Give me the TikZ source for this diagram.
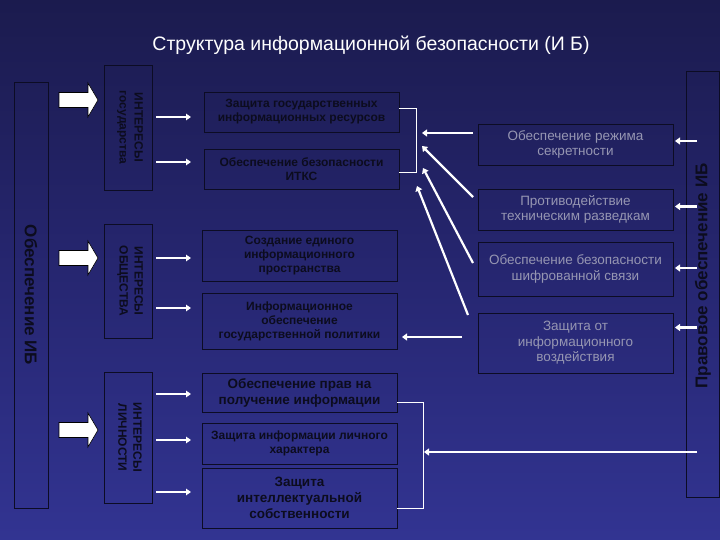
\documentclass[tikz,border=0pt]{standalone}
\usepackage{fontspec}
\setmainfont{Liberation Sans}
\usetikzlibrary{arrows.meta,calc}
\definecolor{bgtop}{RGB}{27,27,78}
\definecolor{bgmid}{RGB}{38,38,112}
\definecolor{bgbot}{RGB}{50,52,146}
\definecolor{edge}{RGB}{12,12,36}
\definecolor{dtext}{RGB}{12,12,30}
\definecolor{rtext}{RGB}{150,150,178}
\newcommand{\mkbigarrow}[1]{\draw[bigarr] (#1) ++(-39,-7.5) -- ++(29,0) -- ++(0,-9.5) -- ++(10,17) -- ++(-10,17) -- ++(0,-9.5) -- ++(-29,0) -- cycle;}
\begin{document}
\begin{tikzpicture}[x=1pt,y=-1pt,
  frame/.style={draw=edge,line width=0.8pt,inner sep=0pt,outer sep=0pt},
  mtext/.style={text=dtext,font=\bfseries\fontsize{12}{14}\selectfont,align=center},
  mbig/.style={text=dtext,font=\bfseries\fontsize{13.5}{16}\selectfont,align=center},
  rtxt/.style={text=rtext,font=\fontsize{13.5}{15.5}\selectfont,align=center},
  itext/.style={text=dtext,font=\bfseries\fontsize{12}{15}\selectfont,align=center,rotate=-90},
  sidetext/.style={text=dtext,font=\bfseries\fontsize{17}{18}\selectfont},
  warr/.style={draw=white,line width=2.2pt,-{Triangle[length=5pt,width=7pt]}},
  sarr/.style={draw=white,line width=2pt,-{Triangle[length=5pt,width=6.5pt]}},
  bracket/.style={draw=white,line width=1pt},
  bigarr/.style={fill=white,draw=black,line width=0.6pt,line join=miter}]
\shade[top color=bgtop,bottom color=bgbot,middle color=bgmid] (0,0) rectangle (720,540);
\useasboundingbox (0,0) rectangle (720,540);
% title
\node[text=white,font=\fontsize{19.5}{22}\selectfont] (title) at (371,45) {Структура информационной безопасности (И Б)};
% left tall box
\node[frame,minimum width=34pt,minimum height=426pt] (lb) at (31,295) {};
\node[sidetext,rotate=-90] (lbt) at (lb.center) {Обеспечение ИБ};
% right tall box
\node[frame,minimum width=33.5pt,minimum height=426pt] (rb) at (702.75,284) {};
\node[sidetext,rotate=90] (rbt) at (703,276) {Правовое обеспечение ИБ};
% interest boxes
\node[frame,minimum width=48pt,minimum height=125pt] (i1) at (128,127.5) {};
\node[frame,minimum width=48pt,minimum height=114pt] (i2) at (128,281) {};
\node[frame,minimum width=48pt,minimum height=131pt] (i3) at (128,437.5) {};
\node[itext] (i1t) at (130,127.5) {ИНТЕРЕСЫ\\государства};
\node[itext] (i2t) at (130,281) {ИНТЕРЕСЫ\\ОБЩЕСТВА};
\node[itext] (i3t) at (130,437.5) {ИНТЕРЕСЫ\\ЛИЧНОСТИ};
% big block arrows
\coordinate (ba1) at (98,100);
\coordinate (ba2) at (98,258);
\coordinate (ba3) at (98,430);
\mkbigarrow{ba1}
\mkbigarrow{ba2}
\mkbigarrow{ba3}
% middle boxes
\node[frame,minimum width=195pt,minimum height=40pt,mtext] (m1) at (301.5,112) {Защита государственных\\информационных ресурсов};
\node[frame,minimum width=195pt,minimum height=40pt,mtext] (m2) at (301.5,169) {Обеспечение безопасности\\ИТКС};
\node[frame,minimum width=195pt,minimum height=51pt,mtext] (m3) at (299.5,255.5) {Создание единого\\информационного\\пространства};
\node[frame,minimum width=195pt,minimum height=56pt,mtext] (m4) at (299.5,321) {Информационное\\обеспечение\\государственной политики};
\node[frame,minimum width=195pt,minimum height=39pt,mbig] (m5) at (299.5,392.5) {Обеспечение прав на\\получение информации};
\node[frame,minimum width=195pt,minimum height=41pt,mtext] (m6) at (299.5,443.5) {Защита информации личного\\характера};
\node[frame,minimum width=195pt,minimum height=60pt,mbig] (m7) at (299.5,498) {Защита\\интеллектуальной\\собственности};
% right boxes
\node[frame,minimum width=195pt,minimum height=41pt,rtxt] (r1) at (575.5,144.5) {Обеспечение режима\\секретности};
\node[frame,minimum width=195pt,minimum height=41pt,rtxt] (r2) at (575.5,209.5) {Противодействие\\техническим разведкам};
\node[frame,minimum width=195pt,minimum height=54pt,rtxt] (r3) at (575.5,269) {Обеспечение безопасности\\шифрованной связи};
\node[frame,minimum width=195pt,minimum height=60pt,rtxt] (r4) at (575.5,343) {Защита от\\информационного\\воздействия};
% small arrows interest -> middle
\draw[sarr] ($(i1.east |- m1.west)+(4,5)$) -- ($(m1.west)+(-13,5)$);
\draw[sarr] ($(i1.east |- m2.west)+(4,-7)$) -- ($(m2.west)+(-13,-7)$);
\draw[sarr] ($(i2.east |- m3.west)+(4,2.5)$) -- ($(m3.west)+(-11,2.5)$);
\draw[sarr] ($(i2.east |- m4.west)+(4,-13)$) -- ($(m4.west)+(-11,-13)$);
\draw[sarr] ($(i3.east |- m5.west)+(4,1.5)$) -- ($(m5.west)+(-11,1.5)$);
\draw[sarr] ($(i3.east |- m6.west)+(4,-3.5)$) -- ($(m6.west)+(-11,-3.5)$);
\draw[sarr] ($(i3.east |- m7.west)+(4,-6)$) -- ($(m7.west)+(-11,-6)$);
% top bracket
\draw[bracket] ($(m1.east)+(0,-3)$) -- ++(17,0) |- ($(m2.east)+(0,4)$);
% bottom bracket
\draw[bracket] ($(m5.east)+(0,9.5)$) -- ++(26,0) |- ($(m7.east)+(0,10)$);
% arrows to top bracket
\draw[warr] ($(r1.west)+(-5,-11.5)$) -- ($(m1.east)+(23,21)$);
\draw[warr] ($(r2.north west)+(-5,8)$) -- ($(m1.east)+(23,34)$);
\draw[warr] ($(r3.west)+(-5,-6)$) -- ($(m1.east)+(24,56)$);
\draw[warr] ($(r4.north west)+(-10,2)$) -- ($(m1.east)+(18,74)$);
% r4 -> m4
\draw[warr] ($(r4.west)+(-16,-6)$) -- ($(m4.east)+(5,16)$);
% legal box -> right boxes
\draw[warr] ($(rb.west |- r1.east)+(11,-3.5)$) -- ($(r1.east)+(2,-3.5)$);
\draw[warr] ($(rb.west |- r2.east)+(11,-3)$) -- ($(r2.east)+(2,-3)$);
\draw[warr] ($(rb.west |- r3.east)+(11,-1)$) -- ($(r3.east)+(2,-1)$);
\draw[warr] ($(rb.west |- r4.east)+(11,-15.5)$) -- ($(r4.east)+(2,-15.5)$);
% long arrow to bottom bracket
\draw[warr] ($(rb.west |- m5.east)+(11,59.5)$) -- ($(m5.east)+(27,59.5)$);
\end{tikzpicture}
\end{document}
